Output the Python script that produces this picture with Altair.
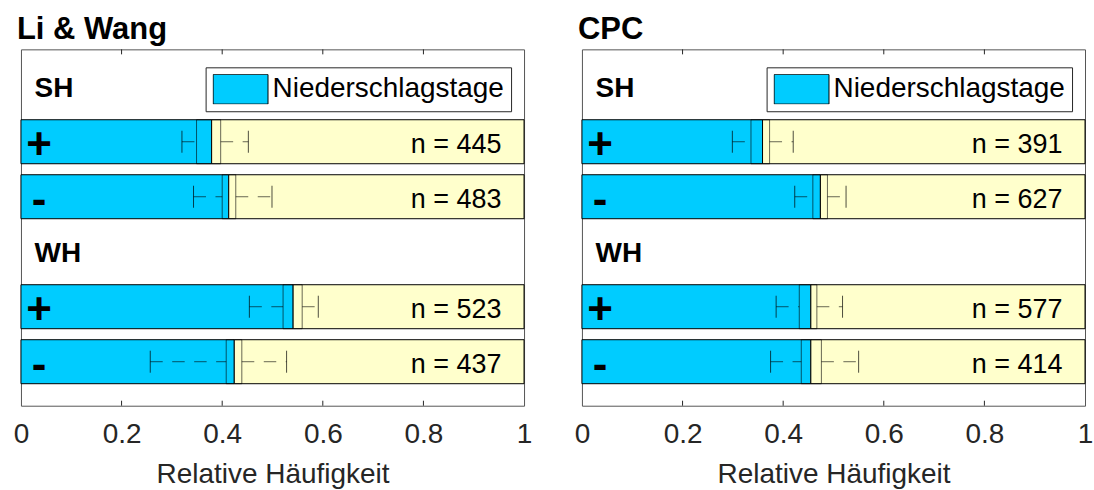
import altair as alt
import pandas as pd

# Row layout: group headers and the +/- rows below them
GROUPS = ["SH", "WH"]
GROUP_POS = [1, 4]
SIGNS = ["+", "-", "+", "-"]
ROW_POS = [2, 3, 5, 6]
TICKS = [0.2, 0.4, 0.6, 0.8]

# Li & Wang
lw_value = [0.379, 0.413, 0.541, 0.424]
lw_box_lo = [0.349, 0.400, 0.521, 0.408]
lw_box_hi = [0.397, 0.427, 0.559, 0.439]
lw_whisk_lo = [0.320, 0.343, 0.454, 0.257]
lw_whisk_hi = [0.452, 0.499, 0.591, 0.528]
lw_n = [445, 483, 523, 437]

# CPC
cpc_value = [0.359, 0.474, 0.455, 0.455]
cpc_box_lo = [0.336, 0.459, 0.432, 0.436]
cpc_box_hi = [0.373, 0.488, 0.467, 0.476]
cpc_whisk_lo = [0.299, 0.423, 0.386, 0.375]
cpc_whisk_hi = [0.420, 0.525, 0.518, 0.550]
cpc_n = [391, 627, 577, 414]

FONT = "Liberation Sans"
W, H = 504, 357
BLUE = "#00CCFF"
CREAM = "#FFFFCC"

xs = alt.Scale(domain=[0, 1], nice=False, zero=False)
ys = alt.Scale(domain=[0.32, 6.8], nice=False, zero=False, reverse=True)
xaxis = alt.Axis(
    title="Relative Häufigkeit",
    values=[0, 0.2, 0.4, 0.6, 0.8, 1],
    format="~g",
    labelFlush=False,
)


def X(field):
    return alt.X(field, type="quantitative", scale=xs, axis=xaxis)


def Y(field):
    return alt.Y(field, type="quantitative", scale=ys, axis=None)


def panel(title, value, box_lo, box_hi, whisk_lo, whisk_hi, n):
    df = pd.DataFrame({
        "row": ROW_POS,
        "sign": SIGNS,
        "value": value,
        "box_lo": box_lo,
        "box_hi": box_hi,
        "whisk_lo": whisk_lo,
        "whisk_hi": whisk_hi,
        "n": n,
    })
    df["kind"] = "Niederschlagstage"
    df["zero"] = 0.0
    df["one"] = 1.0
    df["top"] = df["row"] - 0.4
    df["bottom"] = df["row"] + 0.4
    df["cap_top"] = df["row"] - 0.2
    df["cap_bottom"] = df["row"] + 0.2
    df["label"] = "n = " + df["n"].astype(str)

    groups = pd.DataFrame({"name": GROUPS, "pos": GROUP_POS})
    ticks = pd.DataFrame({"t": TICKS})

    base = alt.Chart(df)

    blue = base.mark_rect(stroke="black", strokeWidth=1).encode(
        x=X("zero"), x2="value:Q", y=Y("top"), y2="bottom:Q",
        color=alt.Color(
            "kind:N",
            scale=alt.Scale(domain=["Niederschlagstage"], range=[BLUE]),
            legend=alt.Legend(
                title=None,
                orient="none",
                legendX=185,
                legendY=18,
                fillColor="white",
                strokeColor="#262626",
                padding=7,
                cornerRadius=0,
                labelFont=FONT,
                labelFontSize=28,
                labelColor="black",
                labelOffset=4,
                labelLimit=400,
                symbolType="M-1,-0.54H1V0.54H-1Z",
                symbolSize=3025,
                symbolStrokeColor="black",
                symbolStrokeWidth=1,
                symbolOpacity=1,
                clipHeight=30,
            ),
        ),
    )
    cream = base.mark_rect(fill=CREAM, stroke="black", strokeWidth=1).encode(
        x=X("value"), x2="one:Q", y=Y("top"), y2="bottom:Q"
    )
    box = base.mark_rect(fillOpacity=0, stroke="black", strokeOpacity=0.6, strokeWidth=1).encode(
        x=X("box_lo"), x2="box_hi:Q", y=Y("top"), y2="bottom:Q"
    )
    dash = dict(color="black", strokeOpacity=0.6, strokeWidth=1, strokeDash=[12.5, 9.5])
    wl = base.mark_rule(**dash).encode(x=X("whisk_lo"), x2="box_lo:Q", y=Y("row"))
    wh = base.mark_rule(**dash).encode(x=X("box_hi"), x2="whisk_hi:Q", y=Y("row"))
    cap = dict(color="black", strokeOpacity=0.7, strokeWidth=1)
    cl = base.mark_rule(**cap).encode(x=X("whisk_lo"), y=Y("cap_top"), y2="cap_bottom:Q")
    ch = base.mark_rule(**cap).encode(x=X("whisk_hi"), y=Y("cap_top"), y2="cap_bottom:Q")

    signs = base.mark_text(
        font=FONT, fontSize=44, fontWeight="bold", color="black",
        align="center", baseline="middle", dy=4,
    ).encode(x=alt.datum(0.036), y=Y("row"), text="sign:N")
    counts = base.mark_text(
        font=FONT, fontSize=27, color="black",
        align="right", baseline="middle", dy=3,
    ).encode(x=alt.datum(0.955), y=Y("row"), text="label:N")
    heads = alt.Chart(groups).mark_text(
        font=FONT, fontSize=28, fontWeight="bold", color="black",
        align="left", baseline="middle", dy=2,
    ).encode(x=alt.datum(0.027), y=Y("pos"), text="name:N")

    tick_top = alt.Chart(ticks).mark_rule(color="#262626").encode(
        x=X("t"), y=alt.value(0), y2=alt.value(5)
    )
    tick_bot = alt.Chart(ticks).mark_rule(color="#262626").encode(
        x=X("t"), y=alt.value(H - 5), y2=alt.value(H)
    )

    return alt.layer(
        blue, cream, box, wl, wh, cl, ch, signs, counts, heads, tick_top, tick_bot
    ).properties(
        width=W,
        height=H,
        title=alt.TitleParams(
            title, anchor="start", frame="group", dx=-4, font=FONT, fontSize=31,
            fontWeight="bold", color="black", baseline="alphabetic", offset=-21,
        ),
    )


left = panel("Li & Wang", lw_value, lw_box_lo, lw_box_hi, lw_whisk_lo, lw_whisk_hi, lw_n)
right = panel("CPC", cpc_value, cpc_box_lo, cpc_box_hi, cpc_whisk_lo, cpc_whisk_hi, cpc_n)

chart = (
    alt.hconcat(left, right, spacing=58, bounds="flush")
    .resolve_scale(color="independent")
    .resolve_legend(color="independent")
    .properties(padding={"left": 12, "top": 13, "right": 0, "bottom": 0})
    .configure_view(stroke="#555555", strokeWidth=1)
    .configure_axis(
        labelFont=FONT,
        labelFontSize=28,
        labelColor="#262626",
        labelPadding=15,
        titleFont=FONT,
        titleFontSize=28,
        titleFontWeight="normal",
        titleColor="#262626",
        titlePadding=12,
        ticks=False,
        domain=False,
        grid=False,
    )
)

chart.save("out.html", embed_options={"renderer": "svg", "actions": False})
